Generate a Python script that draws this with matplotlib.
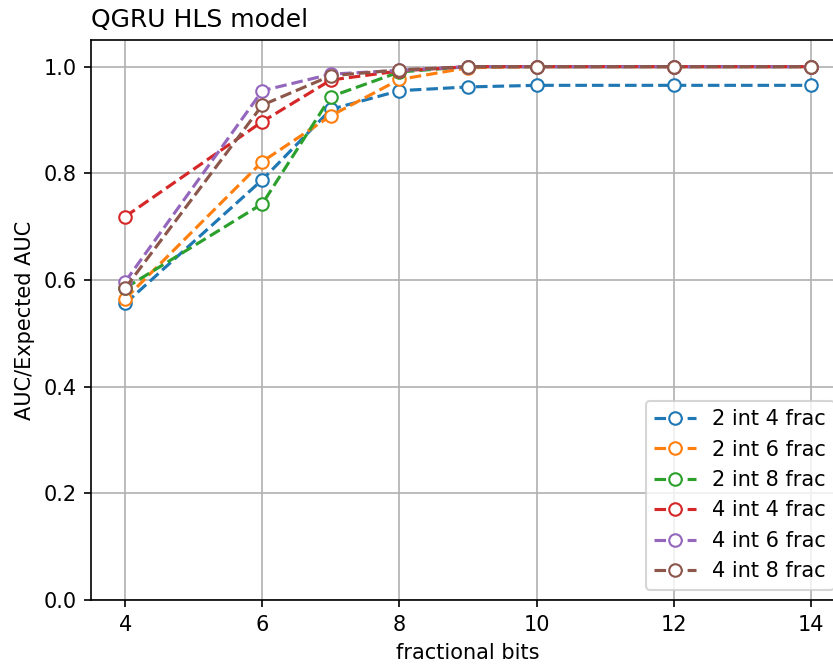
import matplotlib
matplotlib.use("Agg")
import matplotlib.pyplot as plt

frac_bits = [4, 6, 7, 8, 9, 10, 12, 14]
labels = ["2 int 4 frac", "2 int 6 frac", "2 int 8 frac",
          "4 int 4 frac", "4 int 6 frac", "4 int 8 frac"]
s_2i4f = [0.556, 0.788, 0.920, 0.955, 0.962, 0.965, 0.965, 0.965]
s_2i6f = [0.565, 0.822, 0.908, 0.976, 0.998, 1.0, 1.0, 1.0]
s_2i8f = [0.585, 0.743, 0.944, 0.990, 1.0, 1.0, 1.0, 1.0]
s_4i4f = [0.719, 0.897, 0.975, 0.992, 1.0, 1.0, 1.0, 1.0]
s_4i6f = [0.597, 0.955, 0.986, 0.993, 1.0, 1.0, 1.0, 1.0]
s_4i8f = [0.585, 0.928, 0.983, 0.994, 1.0, 1.0, 1.0, 1.0]
series = [s_2i4f, s_2i6f, s_2i8f, s_4i4f, s_4i6f, s_4i8f]

fig = plt.figure(figsize=(834 / 150, 666 / 150), dpi=150)
ax = fig.add_axes([91 / 834, 1 - 600 / 666, (845 - 91) / 834, (600 - 40) / 666])

for vals, lab in zip(series, labels):
    ax.plot(frac_bits, vals, "o--", markerfacecolor="white", label=lab)

ax.set_ylim(0, 1.05)
ax.set_xlim(3.5, 14.5)
ax.set_xticks([4, 6, 8, 10, 12, 14])
ax.grid(True)
ax.set_xlabel("fractional bits")
ax.set_ylabel("AUC/Expected AUC")
ax.set_title("QGRU HLS model", loc="left")
ax.legend(loc="lower right")

fig.savefig("out.png", dpi=150)
